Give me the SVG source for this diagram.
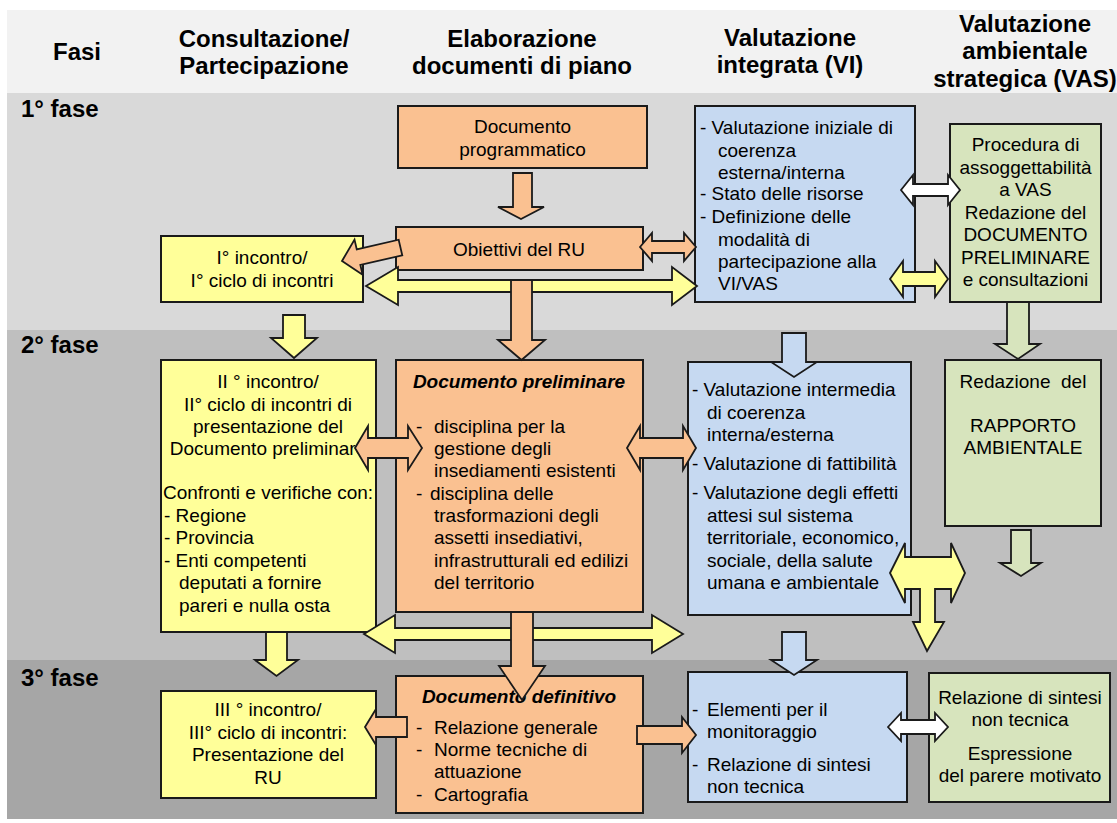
<svg xmlns="http://www.w3.org/2000/svg" width="1117" height="823" viewBox="0 0 1117 823">
<style>
text{font-family:"Liberation Sans",Arial,sans-serif;fill:#000}
.h{font-size:24px;font-weight:bold;text-anchor:middle}
.ph{font-size:24px;font-weight:bold}
.t{font-size:19px}
.c{text-anchor:middle}
.bi{font-weight:bold;font-style:italic}
.box{stroke:#1a1a1a;stroke-width:2}
.o{fill:#fac191}
.y{fill:#ffff99}
.b{fill:#c6d9f1}
.g{fill:#d7e4bd}
.w{fill:#ffffff}
.ar{stroke:#1a1a1a;stroke-width:1.8;stroke-linejoin:miter}
</style>
<rect width="1117" height="823" fill="#ffffff"/>
<g id="bands">
<rect x="7" y="10" width="1110" height="83" fill="#f2f2f2"/>
<rect x="7" y="93" width="1110" height="237" fill="#d9d9d9"/>
<rect x="7" y="330" width="1110" height="330" fill="#bfbfbf"/>
<rect x="7" y="660" width="1110" height="159" fill="#a6a6a6"/>
</g>
<g id="header">
<text class="h" x="77" y="60">Fasi</text>
<text class="h" x="264" y="47">Consultazione/</text>
<text class="h" x="264" y="74">Partecipazione</text>
<text class="h" x="522" y="47">Elaborazione</text>
<text class="h" x="522" y="74">documenti di piano</text>
<text class="h" x="790" y="46">Valutazione</text>
<text class="h" x="790" y="73">integrata (VI)</text>
<text class="h" x="1025" y="32">Valutazione</text>
<text class="h" x="1025" y="59">ambientale</text>
<text class="h" x="1025" y="87">strategica (VAS)</text>
<text class="ph" x="21" y="117">1° fase</text>
<text class="ph" x="21" y="353">2° fase</text>
<text class="ph" x="21" y="686">3° fase</text>
</g>
<g id="doc-programmatico">
<rect class="box o" x="398" y="106" width="249" height="62"/>
<text class="t c" x="522.5" y="133">Documento</text>
<text class="t c" x="522.5" y="156">programmatico</text>
</g>
<g id="obiettivi">
<rect class="box o" x="396" y="227" width="247" height="43"/>
<text class="t c" x="519" y="256">Obiettivi del RU</text>
</g>
<g id="incontro-1">
<rect class="box y" x="161" y="236" width="202" height="66"/>
<text class="t c" x="262" y="264">I° incontro/</text>
<text class="t c" x="262" y="287">I° ciclo di incontri</text>
</g>
<g id="vi-1">
<rect class="box b" x="695" y="106" width="220" height="196"/>
<text class="t" x="700" y="134">- Valutazione iniziale di</text>
<text class="t" x="718" y="157">coerenza</text>
<text class="t" x="718" y="179">esterna/interna</text>
<text class="t" x="700" y="200">- Stato delle risorse</text>
<text class="t" x="700" y="223">- Definizione delle</text>
<text class="t" x="718" y="246">modalità di</text>
<text class="t" x="718" y="268">partecipazione alla</text>
<text class="t" x="718" y="290">VI/VAS</text>
</g>
<g id="vas-1">
<rect class="box g" x="950" y="124" width="151" height="178"/>
<text class="t c" x="1025.5" y="151">Procedura di</text>
<text class="t c" x="1025.5" y="174">assoggettabilità</text>
<text class="t c" x="1025.5" y="196">a VAS</text>
<text class="t c" x="1025.5" y="219">Redazione del</text>
<text class="t c" x="1025.5" y="241">DOCUMENTO</text>
<text class="t c" x="1025.5" y="264">PRELIMINARE</text>
<text class="t c" x="1025.5" y="286">e consultazioni</text>
</g>
<g id="incontro-2">
<rect class="box y" x="161" y="360" width="215" height="272"/>
<text class="t c" x="268" y="388">II ° incontro/</text>
<text class="t c" x="268" y="411">II° ciclo di incontri di</text>
<text class="t c" x="268" y="433">presentazione del</text>
<text class="t c" x="268" y="455">Documento preliminare</text>
<text class="t c" x="268" y="499">Confronti e verifiche con:</text>
<text class="t" x="164" y="522">- Regione</text>
<text class="t" x="164" y="544">- Provincia</text>
<text class="t" x="164" y="567">- Enti competenti</text>
<text class="t" x="179" y="589">deputati a fornire</text>
<text class="t" x="179" y="612">pareri e nulla osta</text>
</g>
<g id="doc-preliminare">
<rect class="box o" x="396" y="360" width="247" height="252"/>
<text class="t c bi" x="519" y="388">Documento preliminare</text>
<text class="t" x="416" y="433">-</text>
<text class="t" x="434" y="433">disciplina per la</text>
<text class="t" x="434" y="455">gestione degli</text>
<text class="t" x="434" y="477">insediamenti esistenti</text>
<text class="t" x="416" y="500">-</text>
<text class="t" x="430" y="500">disciplina delle</text>
<text class="t" x="434" y="522">trasformazioni degli</text>
<text class="t" x="434" y="544">assetti insediativi,</text>
<text class="t" x="434" y="567">infrastrutturali ed edilizi</text>
<text class="t" x="434" y="589">del territorio</text>
</g>
<g id="vi-2">
<rect class="box b" x="688" y="362" width="223" height="253"/>
<text class="t" x="692" y="396">- Valutazione intermedia</text>
<text class="t" x="707" y="419">di coerenza</text>
<text class="t" x="707" y="441">interna/esterna</text>
<text class="t" x="692" y="470">- Valutazione di fattibilità</text>
<text class="t" x="692" y="499">- Valutazione degli effetti</text>
<text class="t" x="707" y="522">attesi sul sistema</text>
<text class="t" x="707" y="544">territoriale, economico,</text>
<text class="t" x="707" y="567">sociale, della salute</text>
<text class="t" x="707" y="589">umana e ambientale</text>
</g>
<g id="vas-2">
<rect class="box g" x="945" y="360" width="156" height="166"/>
<text class="t c" x="1023" y="388" xml:space="preserve">Redazione  del</text>
<text class="t c" x="1023" y="432">RAPPORTO</text>
<text class="t c" x="1023" y="454">AMBIENTALE</text>
</g>
<g id="incontro-3">
<rect class="box y" x="161" y="691" width="215" height="107"/>
<text class="t c" x="268" y="716">III ° incontro/</text>
<text class="t c" x="268" y="739">III° ciclo di incontri:</text>
<text class="t c" x="268" y="761">Presentazione del</text>
<text class="t c" x="268" y="784">RU</text>
</g>
<g id="doc-definitivo">
<rect class="box o" x="396" y="676" width="247" height="137"/>
<text class="t c bi" x="519" y="703">Documento definitivo</text>
<text class="t" x="416" y="734">-</text>
<text class="t" x="434" y="734">Relazione generale</text>
<text class="t" x="416" y="756">-</text>
<text class="t" x="434" y="756">Norme tecniche di</text>
<text class="t" x="434" y="778">attuazione</text>
<text class="t" x="416" y="801">-</text>
<text class="t" x="434" y="801">Cartografia</text>
</g>
<g id="vi-3">
<rect class="box b" x="688" y="672" width="219" height="130"/>
<text class="t" x="692" y="716">-</text>
<text class="t" x="707" y="716">Elementi per il</text>
<text class="t" x="707" y="738">monitoraggio</text>
<text class="t" x="692" y="771">-</text>
<text class="t" x="707" y="771">Relazione di sintesi</text>
<text class="t" x="707" y="793">non tecnica</text>
</g>
<g id="vas-3">
<rect class="box g" x="929" y="673" width="181" height="129"/>
<text class="t c" x="1020" y="704">Relazione di sintesi</text>
<text class="t c" x="1020" y="726">non tecnica</text>
<text class="t c" x="1020" y="760">Espressione</text>
<text class="t c" x="1020" y="782">del parere motivato</text>
</g>
<g id="connectors">
<polygon class="ar o" points="513,173 532,173 532,207 544,207 521,219 498,207 513,207"/>
<polygon class="ar o" transform="translate(342,261) rotate(-13)" points="0,0 17,-18 17,-8 60,-8 60,8 17,8 17,18"/>
<polygon class="ar o" points="640,247 652,233 652,241 684,241 684,233 696,247 684,261 684,253 652,253 652,261"/>
<polygon class="ar y" points="366,286 398,267 398,280 672,280 672,267 697,286 672,305 672,292 398,292 398,305"/>
<polygon class="ar o" points="511,280 532,280 532,340 545,340 521.5,360 498,340 511,340"/>
<polygon class="ar w" points="901,190 913,175 913,184 948,184 948,175 960,190 948,205 948,196 913,196 913,205"/>
<polygon class="ar y" points="890,279 903,261 903,272 935,272 935,261 948,279 935,297 935,286 903,286 903,297"/>
<polygon class="ar y" points="283,315 305,315 305,338 317,338 294,358 271,338 283,338"/>
<polygon class="ar g" points="1007,302 1029,302 1029,344 1040,344 1018,359 995,344 1007,344"/>
<polygon class="ar b" points="782,333 806,333 806,362 817,362 794,377 771,362 782,362"/>
<polygon class="ar o" points="355,448 368,426 368,438 408,438 408,426 422,448 408,470 408,458 368,458 368,470"/>
<polygon class="ar o" points="627,448 640,426 640,438 683,438 683,426 696,448 683,470 683,458 640,458 640,470"/>
<polygon class="ar y" points="890,573 905,543 905,557 951,557 951,543 965,573 951,603 951,589 935,589 935,622 944,622 927,651 913,622 920,622 920,589 905,589 905,603"/>
<polygon class="ar g" points="1011,530 1031,530 1031,563 1041,563 1021,576 1000,563 1011,563"/>
<polygon class="ar y" points="364,634 395,615 395,628 652,628 652,615 683,634 652,653 652,640 395,640 395,653"/>
<polygon class="ar o" points="511,612 533,612 533,666 545,666 522,700 499,666 511,666"/>
<polygon class="ar y" points="266,632 287,632 287,660 298,660 276.5,676 255,660 266,660"/>
<polygon class="ar b" points="782,632 806,632 806,660 817,660 794,675 771,660 782,660"/>
<polygon class="ar o" points="365,727 376,709 376,717 407,717 407,737 376,737 376,745"/>
<polygon class="ar o" points="637,726 682,726 682,717 696,735 682,753 682,744 637,744"/>
<polygon class="ar w" points="888,727 901,713 901,720 935,720 935,713 948,727 935,741 935,734 901,734 901,741"/>
</g>
</svg>
